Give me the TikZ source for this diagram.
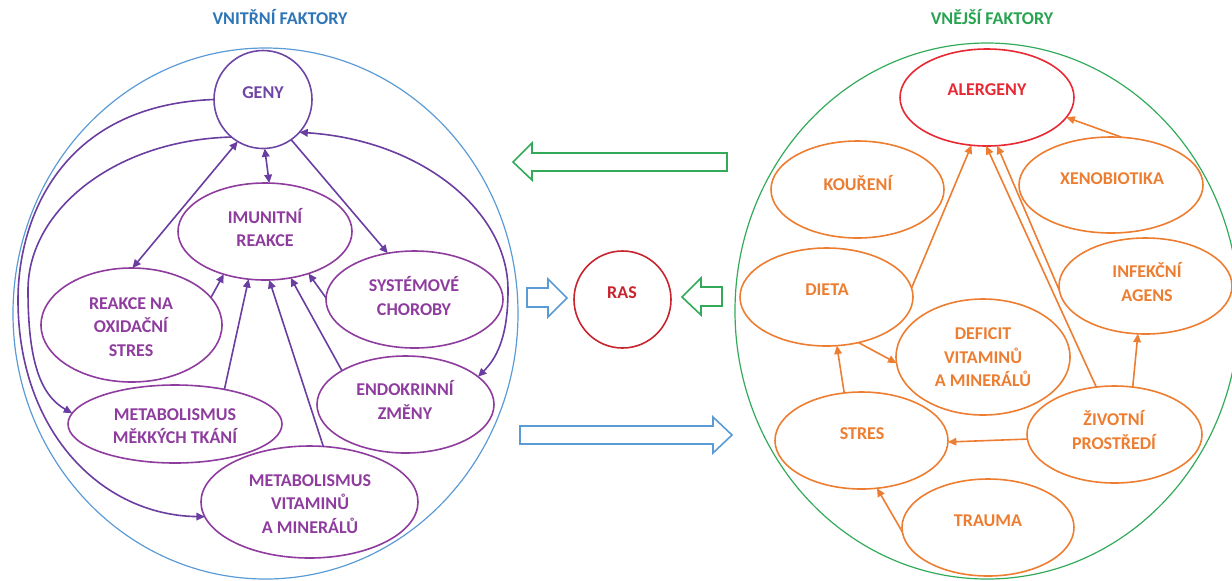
\documentclass[tikz,border=0pt]{standalone}
\usepackage{fontspec}
\setmainfont{Carlito}
\usetikzlibrary{arrows.meta,shapes.geometric}
\definecolor{tblue}{RGB}{46,117,182}
\definecolor{cblue}{RGB}{91,155,213}
\definecolor{tgreen}{RGB}{40,163,80}
\definecolor{cgreen}{RGB}{50,170,90}
\definecolor{npur}{RGB}{142,60,158}
\definecolor{apur}{RGB}{106,62,160}
\definecolor{gpur}{RGB}{110,70,165}
\definecolor{ored}{RGB}{232,40,50}
\definecolor{rred}{RGB}{200,36,46}
\definecolor{orng}{RGB}{237,125,49}
\tikzset{
  ell/.style={ellipse, draw, line width=0.8pt, inner sep=0pt, outer sep=0pt},
  lel/.style={ell, draw=npur},
  rel/.style={ell, draw=orng},
  txt/.style={font=\fontsize{9pt}{11.8pt}\selectfont\bfseries, align=center, inner sep=0pt},
  ltxt/.style={txt, text=npur},
  rtxt/.style={txt, text=orng},
  parr/.style={draw=apur, line width=0.8pt, ->},
  parrb/.style={draw=apur, line width=0.8pt, <->},
  oarr/.style={draw=orng, line width=0.8pt, ->},
  barrow/.style={line width=0.8pt, fill=white, line join=miter},
  >={Triangle[length=4.2pt,width=3.8pt]}
}
\begin{document}
\begin{tikzpicture}[x=0.5pt,y=-0.5pt]
\useasboundingbox (0,0) rectangle (1232,580);
\clip (0,0) rectangle (1232,580);
% big circles
\node[ell, draw=cblue, line width=0.6pt, minimum width=252.5pt, minimum height=265.5pt] (leftc) at (265.5,313.5) {};
\node[ell, draw=cgreen, line width=0.6pt, minimum width=252pt, minimum height=268pt] (rightc) at (987,311) {};
% titles
\node[txt, text=tblue] (tleft) at (280,17) {VNITŘNÍ FAKTORY};
\node[txt, text=tgreen] (tright) at (992,17) {VNĚJŠÍ FAKTORY};
% left nodes
\node[circle, draw=gpur, line width=0.8pt, inner sep=0pt, outer sep=0pt, minimum size=49pt] (geny) at (263,99.5) {};
\node[lel, minimum width=87pt, minimum height=48.5pt] (imm) at (265,231.5) {};
\node[lel, minimum width=88.5pt, minimum height=48.5pt] (sys) at (414.5,299.5) {};
\node[lel, minimum width=90.5pt, minimum height=57pt] (oxi) at (131.5,325) {};
\node[lel, minimum width=107pt, minimum height=39pt] (mek) at (175,424) {};
\node[lel, minimum width=88.5pt, minimum height=48.5pt] (endo) at (405.5,404.5) {};
\node[lel, minimum width=108.5pt, minimum height=56pt] (metvit) at (309.5,502) {};
\node[txt, text=gpur] (t-geny) at (263,93) {GENY};
\node[ltxt] (t-imm) at (265,227.5) {IMUNITNÍ\\REAKCE};
\node[ltxt] (t-sys) at (414,296) {SYSTÉMOVÉ\\CHOROBY};
\node[ltxt] (t-oxi) at (131,327) {REAKCE NA\\OXIDAČNÍ\\STRES};
\node[ltxt] (t-mek) at (175,426) {METABOLISMUS\\MĚKKÝCH TKÁNÍ};
\node[ltxt] (t-endo) at (405,399.7) {ENDOKRINNÍ\\ZMĚNY};
\node[ltxt] (t-metvit) at (310,504) {METABOLISMUS\\VITAMINŮ\\A MINERÁLŮ};
% RAS
\node[circle, draw=rred, line width=0.8pt, inner sep=0pt, outer sep=0pt, minimum size=48.5pt] (ras) at (622.5,299.5) {};
\node[txt, text=rred] (t-ras) at (622,293) {RAS};
% right nodes
\node[ell, draw=ored, minimum width=87pt, minimum height=48.5pt] (alerg) at (987,97.5) {};
\node[rel, minimum width=86.5pt, minimum height=48.5pt] (kour) at (857.5,189.5) {};
\node[rel, minimum width=92pt, minimum height=48pt] (xeno) at (1111,185) {};
\node[rel, minimum width=86.5pt, minimum height=48pt] (inf) at (1145.5,286) {};
\node[rel, minimum width=86.5pt, minimum height=49pt] (dieta) at (826.5,297) {};
\node[rel, minimum width=87pt, minimum height=58pt] (def) at (983,357) {};
\node[rel, minimum width=86.5pt, minimum height=48.5pt] (stres) at (861.5,440.5) {};
\node[rel, minimum width=87.5pt, minimum height=48.5pt] (ziv) at (1114.5,434.5) {};
\node[rel, minimum width=86pt, minimum height=48.5pt] (trauma) at (988,527.5) {};
\node[txt, text=ored] (t-alerg) at (987,90) {ALERGENY};
\node[rtxt] (t-kour) at (858,183) {KOUŘENÍ};
\node[rtxt] (t-xeno) at (1112,179) {XENOBIOTIKA};
\node[rtxt] (t-inf) at (1147,281.7) {INFEKČNÍ\\AGENS};
\node[rtxt] (t-dieta) at (827,290) {DIETA};
\node[rtxt] (t-def) at (983,357.5) {DEFICIT\\VITAMINŮ\\A MINERÁLŮ};
\node[rtxt] (t-stres) at (862,434) {STRES};
\node[rtxt] (t-ziv) at (1114,430) {ŽIVOTNÍ\\PROSTŘEDÍ};
\node[rtxt] (t-trauma) at (988,521) {TRAUMA};
% left connectors
\draw[parrb] (geny.-88) -- (imm.85);
\draw[parrb] (geny.-121.5) -- (oxi.89.5);
\draw[parr] (geny.-55.7) -- (sys.120.6);
\draw[parr] (geny.west) .. controls (60,105) and (18,220) .. (18,300) .. controls (18,430) and (100,515) .. (metvit.-172);
\draw[parr] (geny.-130) .. controls (115,140) and (28,210) .. (28,290) .. controls (28,360) and (40,395) .. (mek.174);
\draw[parrb] (geny.-42) .. controls (420,140) and (508,210) .. (508,290) .. controls (508,330) and (500,355) .. (endo.21.5);
\draw[parr] (oxi.19.8) -- (imm.-134);
\draw[parr] (mek.35.8) -- (imm.-109);
\draw[parr] (metvit.76.4) -- (imm.-85.6);
\draw[parr] (endo.152.6) -- (imm.-61);
\draw[parr] (sys.179) -- (imm.-44);
% right connectors
\draw[oarr] (xeno.77) -- (alerg.-14.4);
\draw[oarr] (dieta.6.6) -- (alerg.-108);
\draw[oarr] (ziv.111.7) -- (alerg.-91);
\draw[oarr] (inf.-177.3) -- (alerg.-78.8);
\draw[oarr] (dieta.-55.6) -- (def.-176.7);
\draw[oarr] (stres.110.5) -- (dieta.-78);
\draw[oarr] (ziv.69.5) -- (inf.-99);
\draw[oarr] (ziv.-177.7) -- (stres.-1.6);
\draw[oarr] (trauma.-177.7) -- (stres.-72);
% block arrows
\draw[barrow, draw=cgreen] (727,153) -- (532,153) -- (532,143) -- (513,162) -- (532,180) -- (532,171) -- (727,171) -- cycle;
\draw[barrow, draw=cblue] (527,288) -- (548,288) -- (548,279) -- (567,298) -- (548,317) -- (548,307) -- (527,307) -- cycle;
\draw[barrow, draw=cgreen] (722,287) -- (701,287) -- (701,278) -- (682,297) -- (701,315) -- (701,306) -- (722,306) -- cycle;
\draw[barrow, draw=cblue] (520,426) -- (713,426) -- (713,417) -- (732,435) -- (713,453) -- (713,444) -- (520,444) -- cycle;
\end{tikzpicture}
\end{document}
